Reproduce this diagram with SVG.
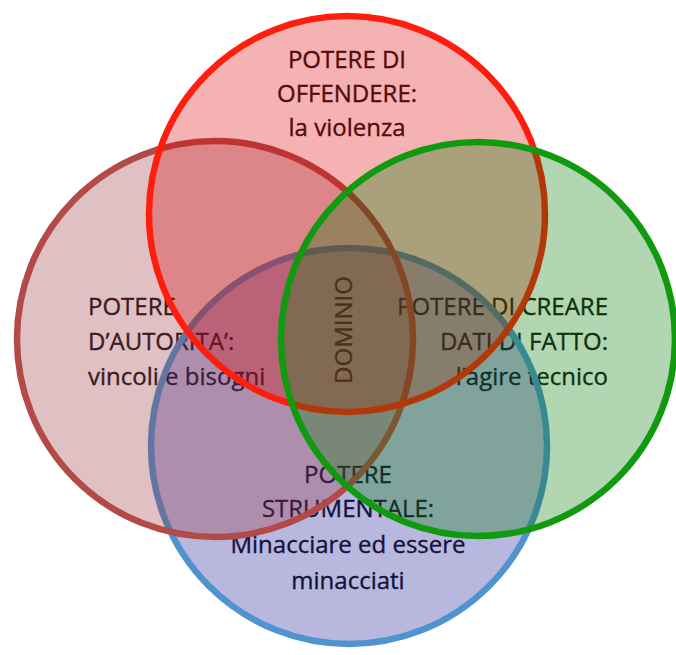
<svg xmlns="http://www.w3.org/2000/svg" width="676" height="655" viewBox="0 0 676 655">
  <style>
    .lbl { font-family: "Open Sans", "Liberation Sans", sans-serif; font-size: 24px; fill: #171111; stroke: #171111; stroke-width: 0.35px; }
    .mid { text-anchor: middle; }
    .end { text-anchor: end; }
    .circ { fill-opacity: 0.3; stroke-width: 6.5; }
  </style>
  <rect width="676" height="655" fill="#ffffff"/>
  <g id="labels">
    <g id="label-offendere" class="lbl mid">
      <text x="347" y="68">POTERE DI</text>
      <text x="347" y="102">OFFENDERE:</text>
      <text x="347" y="136">la violenza</text>
    </g>
    <g id="label-autorita" class="lbl">
      <text x="88" y="315">POTERE</text>
      <text x="88" y="350">D’AUTORITA’:</text>
      <text x="88" y="385">vincoli e bisogni</text>
    </g>
    <g id="label-creare" class="lbl end">
      <text x="608" y="315">POTERE DI CREARE</text>
      <text x="608" y="350">DATI DI FATTO:</text>
      <text x="608" y="385">l’agire tecnico</text>
    </g>
    <g id="label-strumentale" class="lbl mid">
      <text x="348" y="483">POTERE</text>
      <text x="348" y="517">STRUMENTALE:</text>
      <text x="348" y="553">Minacciare ed essere</text>
      <text x="348" y="589">minacciati</text>
    </g>
    <g id="label-dominio" class="lbl mid">
      <text transform="translate(352,330) rotate(-90)">DOMINIO</text>
    </g>
  </g>
  <g id="node-strumentale">
    <circle class="circ" cx="349" cy="446" r="198" fill="#141496" stroke="#4f93cf"/>
  </g>
  <g id="node-autorita">
    <circle class="circ" cx="215" cy="339" r="198" fill="#96323c" stroke="#b24a4a"/>
  </g>
  <g id="node-offendere">
    <circle class="circ" cx="347" cy="214" r="198" fill="#dc0000" stroke="#ff1e0e"/>
  </g>
  <g id="node-creare">
    <circle class="circ" cx="478" cy="339" r="197" fill="#007800" stroke="#109a10"/>
  </g>
  <g id="connectors"></g>
</svg>
